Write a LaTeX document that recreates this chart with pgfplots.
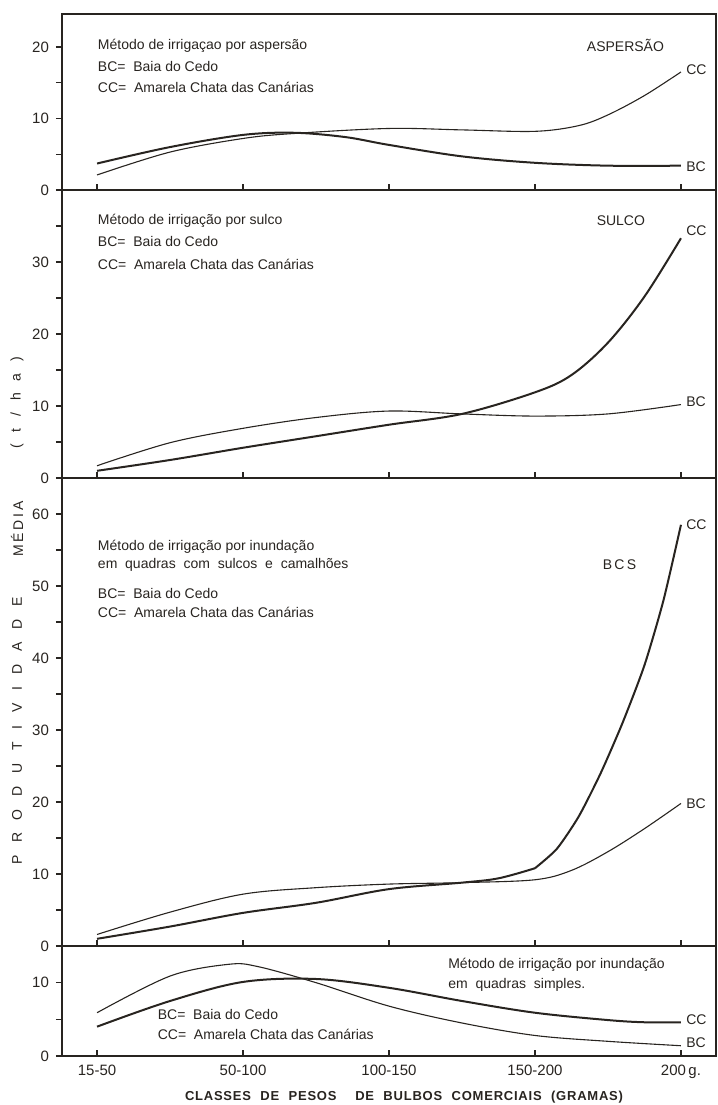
\documentclass[border=0pt]{standalone}
\usepackage{fontspec}
\setmainfont{Liberation Sans}
\newfontfamily\xspaced[LetterSpace=6]{Liberation Sans}
\usepackage{pgfplots}
\pgfplotsset{compat=1.18}
\definecolor{ink}{RGB}{40,36,32}
\pgfplotsset{
 panel/.style={scale only axis, width=327pt, xmin=-0.24, xmax=4.24, ymin=0,
  axis line style={line width=1.1pt, ink},
  xtick={0,1,2,3,4}, xticklabels={}, xtick pos=left, ytick pos=left,
  tick align=outside, major tick length=3pt, minor tick length=3pt,
  tick style={ink, line width=0.6pt},
  xtick style={yshift=3pt},
  yticklabel style={font=\fontsize{7.5}{8}\selectfont, text=ink},
  /pgf/number format/assume math mode=true,
  clip=false},
 thickc/.style={ink, line width=1pt, smooth, tension=0.55, no markers},
 thinc/.style={ink, line width=0.55pt, smooth, tension=0.55, no markers},
}
\tikzset{lab/.style={font=\fontsize{7}{8}\selectfont, text=ink, anchor=west, inner sep=1pt},
 ylab/.style={rotate=90, text=ink, inner sep=0pt, font=\fontsize{7}{8}\selectfont}}
\begin{document}
\begin{tikzpicture}
\useasboundingbox (0,0) rectangle (359pt,552.5pt);
% Panel 1: aspersao
\begin{axis}[panel, at={(31pt,457.5pt)}, anchor=south west, height=88pt, ymax=24.6,
  ytick={0,10,20}, minor ytick={5,15}]
\addplot[thickc] coordinates {(0,3.7)(0.5,6.0)(1,7.7)(1.35,8.0)(1.7,7.4)(2,6.3)(2.5,4.7)(3,3.8)(3.5,3.4)(4,3.4)};
\addplot[thinc] coordinates {(0,2.1)(0.5,5.3)(1,7.2)(1.35,7.9)(2,8.6)(2.5,8.4)(3,8.2)(3.3,9.0)(3.5,10.5)(3.75,13.2)(4,16.5)};
\node[lab] at (axis cs:-0.01,20.2) {Método de irrigaçao por aspersão};
\node[lab] at (axis cs:-0.01,17.2) {BC= \ Baia do Cedo};
\node[lab] at (axis cs:-0.01,14.4) {CC= \ Amarela Chata das Canárias};
\node[lab, anchor=east] at (axis cs:3.9,20.2) {ASPERSÃO};
\node[lab] at (axis cs:4.02,16.8) {CC};
\node[lab] at (axis cs:4.02,3.3) {BC};
\end{axis}
% Panel 2: sulco
\begin{axis}[panel, at={(31pt,313.5pt)}, anchor=south west, height=144pt, ymax=40,
  ytick={0,10,20,30}, minor ytick={5,15,25,35}]
\addplot[thinc] coordinates {(0,1.7)(0.5,4.9)(1,6.9)(1.5,8.4)(2,9.3)(2.5,8.9)(3,8.6)(3.5,8.9)(4,10.2)};
\addplot[thickc] coordinates {(0,1.0)(0.5,2.5)(1,4.2)(1.5,5.8)(2,7.4)(2.5,8.9)(3,11.9)(3.25,14.3)(3.5,18.8)(3.75,25.2)(4,33.3)};
\node[lab] at (axis cs:-0.01,35.7) {Método de irrigação por sulco};
\node[lab] at (axis cs:-0.01,32.8) {BC= \ Baia do Cedo};
\node[lab] at (axis cs:-0.01,29.6) {CC= \ Amarela Chata das Canárias};
\node[lab, anchor=east] at (axis cs:3.77,35.7) {SULCO};
\node[lab] at (axis cs:4.02,34.3) {CC};
\node[lab] at (axis cs:4.02,10.6) {BC};
\end{axis}
% Panel 3: BCS
\begin{axis}[panel, at={(31pt,79.5pt)}, anchor=south west, height=234pt, ymax=65,
  ytick={0,10,20,30,40,50,60}, minor ytick={5,15,25,35,45,55}]
\addplot[thickc] coordinates {(0,1.0)(0.5,2.7)(1,4.6)(1.5,6.0)(2,7.9)(2.5,8.8)(2.75,9.4)(3,10.8)};
\addplot[thickc, tension=0.4] coordinates {(3,10.8)(3.15,13.5)(3.3,18)(3.45,24)(3.6,31)(3.75,39)(3.88,48)(4,58.5)};
\addplot[thinc] coordinates {(0,1.6)(0.5,4.7)(1,7.2)(1.5,8.1)(2,8.6)(2.5,8.8)(3,9.2)(3.25,10.5)(3.5,13.1)(3.75,16.3)(4,19.8)};
\node[lab] at (axis cs:-0.01,55.5) {Método de irrigação por inundação};
\node[lab] at (axis cs:-0.01,53.0) {em \ quadras \ com \ sulcos \ e \ camalhões};
\node[lab] at (axis cs:-0.01,49.0) {BC= \ Baia do Cedo};
\node[lab] at (axis cs:-0.01,46.3) {CC= \ Amarela Chata das Canárias};
\node[lab, anchor=east] at (axis cs:3.71,53.0) {B\,C\,S};
\node[lab] at (axis cs:4.02,58.5) {CC};
\node[lab] at (axis cs:4.02,19.8) {BC};
\end{axis}
% Panel 4: quadras simples
\begin{axis}[panel, at={(31pt,24.5pt)}, anchor=south west, height=55pt, ymax=15,
  ytick={0,10}, minor ytick={5},
  xticklabels={15-50,50-100,100-150,150-200,200\,g.},
  xticklabel style={font=\fontsize{7.5}{8}\selectfont, text=ink, yshift=2pt}]
\addplot[thickc] coordinates {(0,4.0)(0.5,7.5)(1,10.1)(1.5,10.5)(2,9.3)(2.5,7.5)(3,5.9)(3.5,4.9)(3.75,4.6)(4,4.6)};
\addplot[thinc] coordinates {(0,5.9)(0.5,10.9)(0.9,12.5)(1.1,12.2)(1.5,10.0)(2,6.8)(2.5,4.5)(3,2.8)(3.5,2.0)(4,1.4)};
\node[lab] at (axis cs:2.39,12.5) {Método de irrigação por inundação};
\node[lab] at (axis cs:2.39,9.7) {em \ quadras \ simples.};
\node[lab] at (axis cs:0.40,5.6) {BC= \ Baia do Cedo};
\node[lab] at (axis cs:0.40,2.9) {CC= \ Amarela Chata das Canárias};
\node[lab] at (axis cs:4.02,5.0) {CC};
\node[lab] at (axis cs:4.02,1.8) {BC};
\end{axis}
\node[text=ink, anchor=base, inner sep=0pt, font=\xspaced\bfseries\fontsize{6.5}{7}\selectfont] at (202pt,2.4pt)
  {\hbox to 219pt{CLASSES\hfill DE\hfill PESOS\hfill\hfill DE\hfill BULBOS\hfill COMERCIAIS\hfill (GRAMAS)}};
\node[ylab] at (8.5pt,187pt) {\hbox to 134pt{P\hfill R\hfill O\hfill D\hfill U\hfill T\hfill I\hfill V\hfill I\hfill D\hfill A\hfill D\hfill E}};
\node[ylab] at (8.5pt,288pt) {\hbox to 27.5pt{M\hfill É\hfill D\hfill I\hfill A}};
\node[ylab] at (8.5pt,351pt) {\hbox to 46pt{(\hfill t\hfill /\hfill h\hfill a\hfill)}};
\end{tikzpicture}
\end{document}
